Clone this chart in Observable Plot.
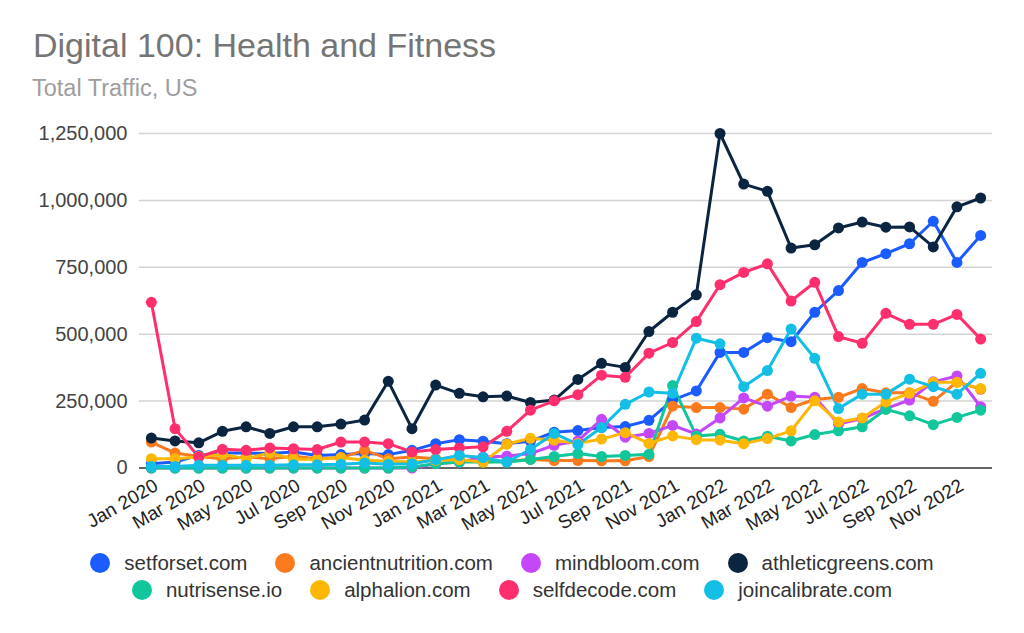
<!DOCTYPE html>
<html>
<head>
<meta charset="utf-8">
<script src="https://cdn.jsdelivr.net/npm/d3@7"></script>
<script src="https://cdn.jsdelivr.net/npm/@observablehq/plot@0.6"></script>
<style>
  html, body { margin: 0; padding: 0; background: #fff; }
  body { width: 1024px; height: 633px; overflow: hidden; font-family: "Liberation Sans", Arial, sans-serif; }
  #header { position: relative; height: 110px; }
  #title { position: absolute; left: 33px; top: 28px; font-size: 34px; line-height: 1; color: #757575; white-space: nowrap; }
  #subtitle { position: absolute; left: 32px; top: 77px; font-size: 23.5px; line-height: 1; color: #9e9e9e; white-space: nowrap; }
  #chart svg { display: block; }
  #legend { margin-top: 13px; }
  .row { display: flex; justify-content: center; align-items: center; height: 20px; margin-bottom: 7px; }
  .item { display: flex; align-items: center; margin: 0 14px; font-size: 20.5px; line-height: 20px; color: #333; white-space: nowrap; }
  .sw { width: 20px; height: 20px; border-radius: 50%; margin-right: 14px; flex: none; }
</style>
</head>
<body>
<div id="header">
  <div id="title">Digital 100: Health and Fitness</div>
  <div id="subtitle">Total Traffic, US</div>
</div>
<div id="chart"></div>
<div id="legend"></div>
<script>
const months = [
  "Jan 2020","Feb 2020","Mar 2020","Apr 2020","May 2020","Jun 2020","Jul 2020","Aug 2020","Sep 2020","Oct 2020","Nov 2020","Dec 2020",
  "Jan 2021","Feb 2021","Mar 2021","Apr 2021","May 2021","Jun 2021","Jul 2021","Aug 2021","Sep 2021","Oct 2021","Nov 2021","Dec 2021",
  "Jan 2022","Feb 2022","Mar 2022","Apr 2022","May 2022","Jun 2022","Jul 2022","Aug 2022","Sep 2022","Oct 2022","Nov 2022","Dec 2022"
];
const tickMonths = ["Jan 2020","Mar 2020","May 2020","Jul 2020","Sep 2020","Nov 2020","Jan 2021","Mar 2021","May 2021","Jul 2021","Sep 2021","Nov 2021","Jan 2022","Mar 2022","May 2022","Jul 2022","Sep 2022","Nov 2022"];
const yTicks = [0, 250000, 500000, 750000, 1000000, 1250000];

const sites = ["setforset.com","ancientnutrition.com","mindbloom.com","athleticgreens.com","nutrisense.io","alphalion.com","selfdecode.com","joincalibrate.com"];
const colors = ["#1a5cff","#fb7a1e","#c447f9","#0b2540","#10c69a","#ffb705","#ff2f6e","#14bfe5"];

// values in thousands of visits
const setforset = [16,22,47,56,56,54,60,47,50,54,50,66, 91,106,100,91,100,134,140,151,155,178,254,288, 432,432,487,472,582,663,768,801,838,922,768,869];
const ancientnutrition = [97,56,43,35,41,35,44,35,39,66,35,41, 35,29,22,26,32,28,28,27,27,43,231,226, 226,220,276,226,256,264,297,281,281,249,322,294];
const mindbloom = [0,0,0,0,0,0,0,0,0,0,0,0, 16,22,41,44,54,85,101,182,115,129,159,127, 187,262,231,269,264,164,185,222,254,322,344,229];
const athleticgreens = [112,101,94,137,154,129,154,154,164,179,324,147, 310,279,266,269,245,254,331,391,376,510,582,647, 1250,1061,1034,822,834,897,919,900,901,826,976,1009];
const nutrisense = [0,0,0,0,0,0,0,0,0,0,0,4, 16,22,22,22,32,43,54,43,47,51,308,120, 126,101,119,101,125,139,154,219,195,162,189,216];
const alphalion = [35,35,41,51,35,56,33,33,39,29,25,22, 29,31,22,89,111,104,92,108,132,92,120,106, 104,91,110,139,251,172,187,247,279,320,320,297];
const selfdecode = [619,147,41,70,66,75,72,69,97,97,91,60, 69,75,79,137,216,251,274,347,339,429,469,547, 685,731,763,624,694,491,466,578,537,537,574,482];
const joincalibrate = [6,6,10,10,10,10,12,12,14,19,14,16, 31,47,39,22,69,129,88,151,238,284,279,485, 464,304,364,519,410,222,276,276,332,304,276,354];

const seriesValues = [setforset, ancientnutrition, mindbloom, athleticgreens, nutrisense, alphalion, selfdecode, joincalibrate];

const data = [];
sites.forEach((site, s) => {
  seriesValues[s].forEach((v, i) => data.push({site, month: months[i], value: v * 1000}));
});

const chart = Plot.plot({
  width: 1024,
  height: 430,
  marginTop: 23,
  marginBottom: 72.5,
  marginLeft: 139,
  marginRight: 32,
  style: {fontFamily: "'Liberation Sans', Arial, sans-serif", background: "#fff", overflow: "visible"},
  x: {type: "point", domain: months, padding: 0.5, round: false},
  y: {domain: [0, 1250000]},
  color: {domain: sites, range: colors},
  marks: [
    Plot.gridY(yTicks.filter(d => d > 0), {stroke: "#d3d3d3", strokeOpacity: 1, strokeWidth: 1.5}),
    Plot.axisY(yTicks, {tickSize: 0, tickPadding: 12, tickFormat: d3.format(","), fontSize: 20, fill: "#444", label: null}),
    Plot.axisX(tickMonths, {tickSize: 0, tickRotate: -30, tickPadding: 16, dx: 5, fontSize: 19, fill: "#222", label: null}),
    Plot.ruleY([0], {stroke: "#333", strokeWidth: 1.5}),
    Plot.line(data, {x: "month", y: "value", z: "site", stroke: "site", strokeWidth: 3, strokeLinejoin: "round"}),
    Plot.dot(data, {x: "month", y: "value", fill: "site", r: 5.5})
  ]
});
document.getElementById("chart").appendChild(chart);

const legend = document.getElementById("legend");
[sites.slice(0, 4), sites.slice(4)].forEach(rowSites => {
  const row = document.createElement("div");
  row.className = "row";
  rowSites.forEach(site => {
    const item = document.createElement("div");
    item.className = "item";
    const sw = document.createElement("span");
    sw.className = "sw";
    sw.style.background = colors[sites.indexOf(site)];
    item.appendChild(sw);
    item.appendChild(document.createTextNode(site));
    row.appendChild(item);
  });
  legend.appendChild(row);
});
</script>
</body>
</html>
